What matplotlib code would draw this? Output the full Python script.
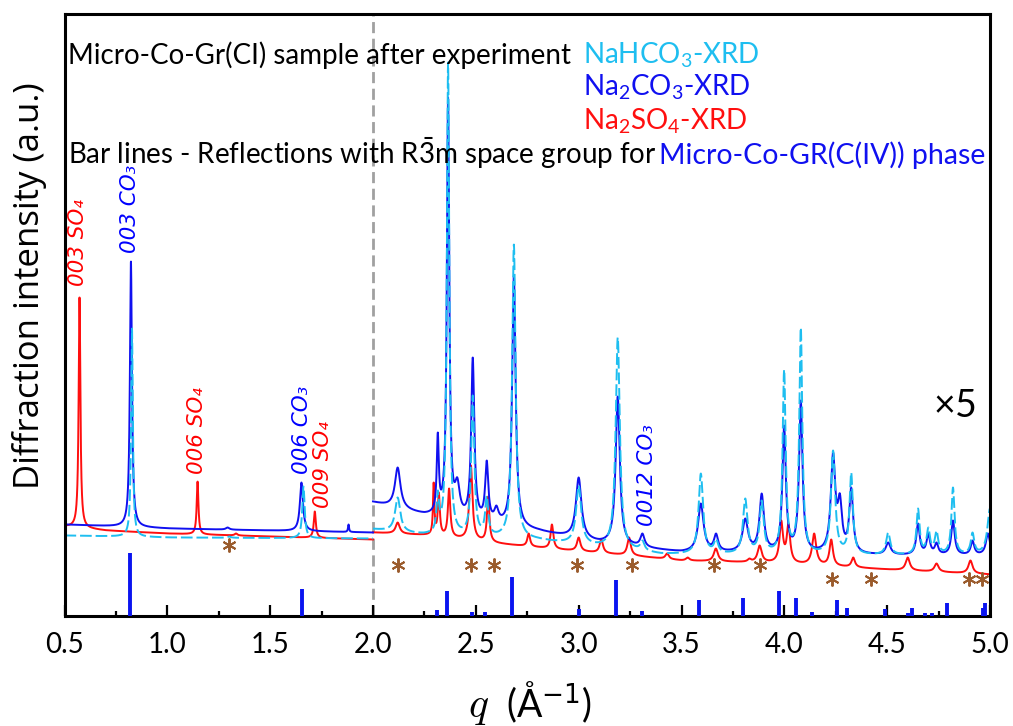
import numpy as np
import matplotlib
matplotlib.use("Agg")
import matplotlib.pyplot as plt

plt.rcParams['font.family'] = ['Lato', 'DejaVu Sans']
plt.rcParams['mathtext.fontset'] = 'custom'
plt.rcParams['mathtext.rm'] = 'Lato'
plt.rcParams['mathtext.it'] = 'Lato:italic'
plt.rcParams['mathtext.bf'] = 'Lato:bold'

# ---------------- data (intensity in a.u.) ----------------
# left part (q < 2.0), unscaled
red_L_base_q = [0.5, 0.7, 1.0, 1.5, 2.0]
red_L_base_y = [89, 85, 82, 79, 76]
red_L_pk_q = [0.573, 1.147, 1.334, 1.717]
red_L_pk_y = [318, 134, 82, 104]
red_L_pk_w = [0.005, 0.005, 0.008, 0.006]

blue_L_base_q = [0.5, 1.0, 1.5, 2.0]
blue_L_base_y = [91, 87, 85, 83]
blue_L_pk_q = [0.823, 1.293, 1.652, 1.881]
blue_L_pk_y = [354, 88, 133, 91]
blue_L_pk_w = [0.006, 0.01, 0.009, 0.003]

cyan_L_base_q = [0.5, 1.0, 2.0]
cyan_L_base_y = [80, 78, 77]
cyan_L_pk_q = [0.828, 1.30, 1.662]
cyan_L_pk_y = [287, 79, 129]
cyan_L_pk_w = [0.005, 0.01, 0.007]

# right part (q > 2.0), x5
blue_R_base_q = [2.0, 2.25, 2.8, 3.1, 3.5, 4.0, 4.5, 5.0]
blue_R_base_y = [113, 100, 84, 72, 63, 62, 60, 60]
blue_R_pk_q = [2.12, 2.315, 2.365, 2.41, 2.485, 2.553, 2.60, 2.685, 3.0, 3.19, 3.31,
               3.594, 3.668, 3.81, 3.89, 3.999, 4.08, 4.237, 4.27, 4.325, 4.505,
               4.65, 4.70, 4.74, 4.82, 4.915, 4.99]
blue_R_pk_y = [148, 183, 518, 138, 258, 155, 110, 340, 138, 219, 82,
               112, 82, 97, 122, 190, 215, 163, 122, 128, 73,
               92, 82, 73, 95, 75, 82]
blue_R_pk_w = [0.016, 0.006, 0.007, 0.014, 0.009, 0.009, 0.012, 0.01, 0.016, 0.012, 0.012,
               0.016, 0.012, 0.016, 0.013, 0.01, 0.01, 0.013, 0.012, 0.011, 0.014,
               0.01, 0.01, 0.01, 0.01, 0.01, 0.012]

cyan_R_base_q = [2.0, 2.25, 2.8, 3.1, 3.4, 4.0, 5.0]
cyan_R_base_y = [86, 80, 75, 68, 61, 60, 60]
cyan_R_pk_q = [2.12, 2.315, 2.365, 2.485, 2.553, 2.685, 3.0, 3.19, 3.31, 3.594, 3.668,
               3.81, 3.89, 3.999, 4.08, 4.237, 4.325, 4.505, 4.65, 4.70, 4.74, 4.82,
               4.915, 5.0]
cyan_R_pk_y = [118, 125, 553, 220, 120, 371, 130, 278, 75, 142, 77,
               117, 115, 246, 288, 165, 143, 83, 107, 88, 85, 128,
               83, 107]
cyan_R_pk_w = [0.015, 0.007, 0.007, 0.009, 0.009, 0.01, 0.015, 0.012, 0.012, 0.013, 0.012,
               0.013, 0.012, 0.009, 0.009, 0.012, 0.01, 0.012, 0.009, 0.01, 0.01, 0.009,
               0.01, 0.015]

red_R_base_q = [2.0, 2.28, 2.6, 2.9, 3.3, 3.5, 4.0, 4.5, 5.0]
red_R_base_y = [83, 80, 72, 66, 59, 55, 52, 46, 41]
red_R_pk_q = [2.12, 2.295, 2.32, 2.37, 2.476, 2.56, 2.757, 2.87, 3.0, 3.11, 3.245,
              3.43, 3.53, 3.667, 3.83, 3.88, 3.985, 4.02, 4.145, 4.228, 4.335,
              4.60, 4.74, 4.905]
red_R_pk_y = [93, 133, 123, 127, 150, 119, 82, 91, 78, 76, 78,
              62, 58, 67, 57, 70, 95, 92, 82, 76, 58,
              58, 52, 55]
red_R_pk_w = [0.012, 0.004, 0.006, 0.007, 0.009, 0.007, 0.008, 0.008, 0.01, 0.01, 0.01,
              0.01, 0.01, 0.012, 0.01, 0.012, 0.01, 0.01, 0.012, 0.01, 0.01,
              0.012, 0.012, 0.012]

# R-3m reflections (bar lines)
bar_q = [0.82, 1.653, 2.309, 2.359, 2.48, 2.544, 2.675, 3.0, 3.18, 3.31, 3.585,
         3.80, 3.975, 4.057, 4.135, 4.257, 4.305, 4.49, 4.60, 4.62, 4.685, 4.72,
         4.79, 4.967, 4.977]
bar_h = [63, 27, 6, 25, 4, 4, 39, 7, 36, 5, 16,
         18, 25, 18, 4, 16, 8, 7, 3, 8, 3, 3,
         13, 8, 13]

# impurity asterisks
star_q = [1.298, 2.12, 2.476, 2.587, 2.99, 3.26, 3.66, 3.88, 4.23, 4.42, 4.90, 4.96]
star_y = [71, 51, 51, 51, 51, 51, 51, 51, 37, 37, 37, 37]

# peak labels
lab_text = ["003 SO\u2084", "003 CO\u2083", "006 SO\u2084",
            "006 CO\u2083", "009 SO\u2084", "0012 CO\u2083"]
lab_q = [0.566, 0.818, 1.144, 1.655, 1.757, 3.332]
lab_y = [330, 363, 142, 142, 108, 90]
lab_col = ['red', 'blue', 'red', 'blue', 'red', 'blue']

C_CYAN = '#1EBEF0'
C_BLUE = '#1010F0'
C_RED = '#FF0F0F'
C_STAR = '#9A5B2C'


def lorentz(q, q0, w):
    return w ** 2 / ((q - q0) ** 2 + w ** 2)


def build(q, bq, by, pq, py, pw):
    bq, by, pq, py, pw = map(np.asarray, (bq, by, pq, py, pw))
    base = np.interp(q, bq, by)
    A = lorentz(pq[:, None], pq[None, :], pw[None, :])
    target = py - np.interp(pq, bq, by)
    amp = np.linalg.solve(A, target)
    return base + lorentz(q[:, None], pq[None, :], pw[None, :]) @ amp


qL = np.linspace(0.5, 2.0, 3000)
qR = np.linspace(2.0, 5.0, 6000)

fig = plt.figure(figsize=(10.13, 7.26), dpi=100)
W, H = 1013, 726
ax = fig.add_axes([64.5 / W, 1 - 615.5 / H, (990 - 64.5) / W, (615.5 - 14) / H])

lw = 1.4
for qq, args, col, ls in [
    (qL, (red_L_base_q, red_L_base_y, red_L_pk_q, red_L_pk_y, red_L_pk_w), C_RED, '-'),
    (qR, (red_R_base_q, red_R_base_y, red_R_pk_q, red_R_pk_y, red_R_pk_w), C_RED, '-'),
    (qL, (blue_L_base_q, blue_L_base_y, blue_L_pk_q, blue_L_pk_y, blue_L_pk_w), C_BLUE, '-'),
    (qR, (blue_R_base_q, blue_R_base_y, blue_R_pk_q, blue_R_pk_y, blue_R_pk_w), C_BLUE, '-'),
    (qL, (cyan_L_base_q, cyan_L_base_y, cyan_L_pk_q, cyan_L_pk_y, cyan_L_pk_w), C_CYAN, (0, (6, 2))),
    (qR, (cyan_R_base_q, cyan_R_base_y, cyan_R_pk_q, cyan_R_pk_y, cyan_R_pk_w), C_CYAN, (0, (6, 2))),
]:
    ax.plot(qq, build(qq, *args), color=col, lw=lw, ls=ls)

ax.vlines(bar_q, 0, bar_h, color='#0A14F0', lw=2.8, zorder=3)
ax.plot(star_q, star_y, ls='none', marker=(6, 2, 0), ms=10, mew=1.4, color=C_STAR)
ax.axvline(2.0, color='#A0A0A0', lw=2.0, ls=(0, (4, 2)), zorder=1)

for t, qx, yy, c in zip(lab_text, lab_q, lab_y, lab_col):
    ax.text(qx, yy, t, color=c, rotation=90, ha='center', va='bottom', fontsize=15.5,
            family=['DejaVu Sans'], style='italic')

ax.set_xlim(0.5, 5.0)
ax.set_ylim(0, 601.5)
ax.set_xticks([0.5, 1.0, 1.5, 2.0, 2.5, 3.0, 3.5, 4.0, 4.5, 5.0])
ax.set_xticklabels(['0.5', '1.0', '1.5', '2.0', '2.5', '3.0', '3.5', '4.0', '4.5', '5.0'])
ax.set_xticks(np.arange(0.75, 5.0, 0.5), minor=True)
ax.set_yticks([])
ax.tick_params(axis='x', which='major', direction='in', length=8, width=1.6,
               labelsize=20, pad=12, top=False)
ax.tick_params(axis='x', which='minor', direction='in', length=3.8, width=1.6, top=False)
for s in ax.spines.values():
    s.set_linewidth(2.2)


def F(x, y):
    return x / W, 1 - y / H


fs = 20
fig.text(*F(68, 64), "Micro-Co-Gr(CI) sample after experiment", fontsize=fs, va='baseline')
fig.text(*F(583, 63), r"NaHCO$_3$-XRD", color=C_CYAN, fontsize=fs, va='baseline')
fig.text(*F(583, 96), r"Na$_2$CO$_3$-XRD", color=C_BLUE, fontsize=fs, va='baseline')
fig.text(*F(583, 130), r"Na$_2$SO$_4$-XRD", color=C_RED, fontsize=fs, va='baseline')
fig.text(*F(68, 164), r"Bar lines - Reflections with R$\bar{3}$m space group for",
         fontsize=fs, va='baseline')
fig.text(*F(659, 164), "Micro-Co-GR(C(IV)) phase", color=C_BLUE, fontsize=20.5, va='baseline')
fig.text(*F(933, 417), r"$\times$5", fontsize=27, va='baseline')

fig.text(*F(30, 286), "Diffraction intensity (a.u.)", rotation=90, ha='center', va='center',
         fontsize=25, family=['Open Sans', 'DejaVu Sans'])
fig.text(*F(478, 717), r"$q$", fontsize=30, ha='center', va='baseline', math_fontfamily='cm')
fig.text(*F(506, 717), r"(Å$^{\mathsf{-1}}$)", fontsize=27, ha='left', va='baseline')

fig.savefig("out.png", dpi=100)
